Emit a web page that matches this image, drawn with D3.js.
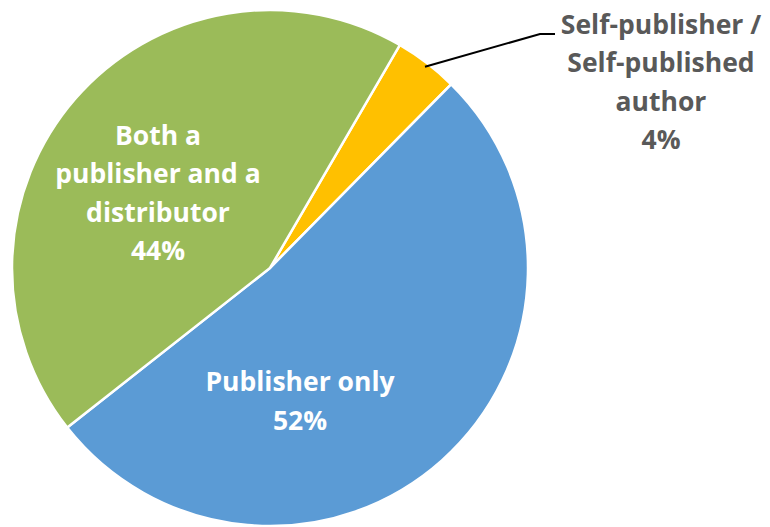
<!DOCTYPE html>
<html>
<head>
<meta charset="utf-8">
<script src="https://cdn.jsdelivr.net/npm/d3@7"></script>
<style>
  body { margin: 0; background: #fff; }
  text { font-family: "Open Sans", Lato, sans-serif; font-weight: bold; }
</style>
</head>
<body>
<script>
const width = 770, height = 527;

// slice data, in drawing order (clockwise from start angle)
const categories = ["Self-publisher / Self-published author", "Publisher only", "Both a publisher and a distributor"];
const values = [4, 52, 44];
const colors = ["#FFC000", "#5B9BD5", "#9BBB59"];
const labelLines = [
  ["Self-publisher /", "Self-published", "author", "4%"],
  ["Publisher only", "52%"],
  ["Both a", "publisher and a", "distributor", "44%"]
];

const cx = 270, cy = 268, r = 258;
const startAngle = 30.2 * Math.PI / 180;

const svg = d3.select("body").append("svg")
  .attr("width", width)
  .attr("height", height);

const g = svg.append("g").attr("transform", `translate(${cx},${cy})`);

const pie = d3.pie()
  .sort(null)
  .value(d => d)
  .startAngle(startAngle)
  .endAngle(startAngle + 2 * Math.PI);

const arcs = pie(values);
const arc = d3.arc().innerRadius(0).outerRadius(r);

g.selectAll("path")
  .data(arcs)
  .enter().append("path")
  .attr("d", arc)
  .style("fill", (d, i) => colors[i])
  .style("stroke", "#fff")
  .style("stroke-width", 2.5);

// label positions (centre of the text block), relative to pie centre
const labelPos = [
  { x: 391, y: -186, fill: "#595959" },
  { x: 30, y: 133, fill: "#fff" },
  { x: -112, y: -75, fill: "#fff" }
];
const lineH = 38.5;

labelLines.forEach((lines, i) => {
  const p = labelPos[i];
  const t = g.append("text")
    .attr("text-anchor", "middle")
    .style("font-size", "26.5px")
    .style("fill", p.fill);
  lines.forEach((s, j) => {
    t.append("tspan")
      .attr("x", p.x)
      .attr("y", p.y + (j - (lines.length - 1) / 2) * lineH)
      .attr("dy", "0.35em")
      .text(s);
  });
});

// leader line for the small slice
const lead = 37.6 * Math.PI / 180;
const p0 = [Math.sin(lead) * (r - 4), -Math.cos(lead) * (r - 4)];
g.append("polyline")
  .attr("points", [p0, [270, -234], [285, -234]].map(p => p.join(",")).join(" "))
  .style("fill", "none")
  .style("stroke", "#000")
  .style("stroke-width", 2);
</script>
</body>
</html>
